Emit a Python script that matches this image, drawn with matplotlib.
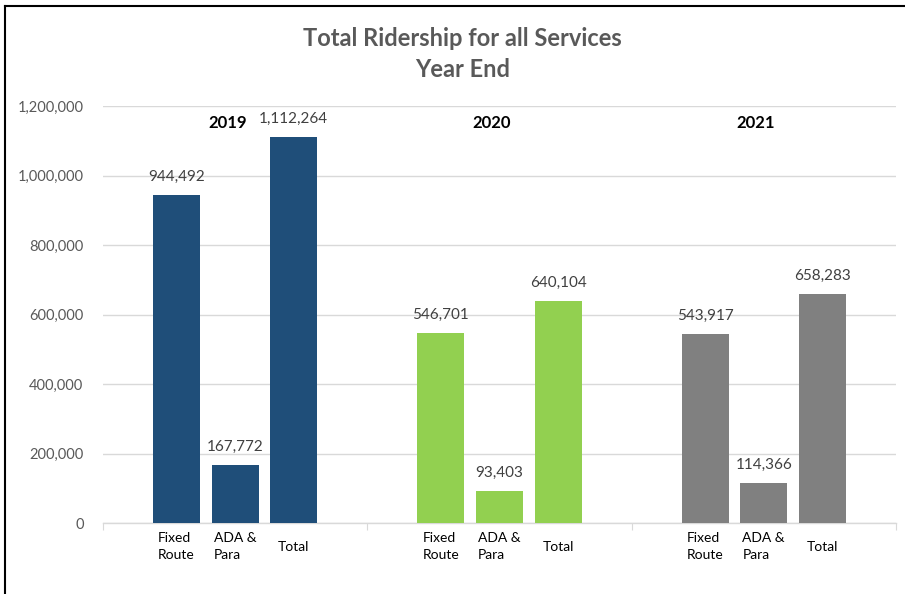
import numpy as np
import matplotlib.pyplot as plt
from matplotlib.lines import Line2D

years = ['2019', '2020', '2021']
services = ['Fixed\nRoute', 'ADA &\nPara', 'Total']
fixed_route = [944492, 546701, 543917]
ada_para = [167772, 93403, 114366]
total = [1112264, 640104, 658283]
year_colors = ['#1F4E79', '#92D050', '#808080']

plt.rcParams['font.family'] = ['Lato', 'DejaVu Sans']

fig = plt.figure(figsize=(9.05, 5.94), dpi=100)
ax = fig.add_axes([0.1138, 0.1195, 0.8762, 0.702])

index = np.arange(len(years))
offsets = [-0.222, 0.0, 0.222]
bar_width = 0.178
series = [fixed_route, ada_para, total]

for s, (vals, off) in enumerate(zip(series, offsets)):
    bars = ax.bar(index + off, vals, bar_width, color=year_colors, zorder=3)
    for x, v in zip(index + off, vals):
        ax.text(x, v + 52000, f'{v:,}', ha='center', va='center',
                fontsize=11, color='#404040')
        ax.text(x, -68000, services[s], ha='center', va='center',
                multialignment='left', fontsize=10, color='#000000',
                linespacing=1.45)

# year labels above each group
for i, y in enumerate(years):
    ax.text(i - 0.03, 1150000, y, ha='center', va='center',
            fontsize=12, fontweight='bold', color='#000000')

ax.set_xlim(-0.5, 2.5)
ax.set_ylim(0, 1200000)
ax.set_yticks(np.arange(0, 1200001, 200000))
ax.yaxis.set_major_formatter(plt.FuncFormatter(lambda v, p: f'{int(v):,}'))
ax.tick_params(axis='y', length=0, labelsize=10.5, labelcolor='#595959', pad=14)
ax.set_xticks([-0.5, 0.5, 1.5, 2.5])
ax.set_xticklabels([])
ax.tick_params(axis='x', length=5, color='#D9D9D9', direction='out')
ax.grid(axis='y', color='#D9D9D9', linewidth=1, zorder=0)
for sp in ['top', 'right', 'left']:
    ax.spines[sp].set_visible(False)
ax.spines['bottom'].set_color('#D9D9D9')
ax.spines['bottom'].set_linewidth(1)

fig.text(0.511, 0.935, 'Total Ridership for all Services', ha='center', va='center',
         fontsize=17, fontweight='bold', color='#595959')
fig.text(0.511, 0.883, 'Year End', ha='center', va='center',
         fontsize=17, fontweight='bold', color='#595959')

# chart border (top and left edges visible)
fig.add_artist(Line2D([0.006, 1.0], [0.99, 0.99], color='black', linewidth=1.5,
                      transform=fig.transFigure))
fig.add_artist(Line2D([0.006, 0.006], [0.0, 0.99], color='black', linewidth=1.5,
                      transform=fig.transFigure))

fig.savefig('out.png', dpi=100)
